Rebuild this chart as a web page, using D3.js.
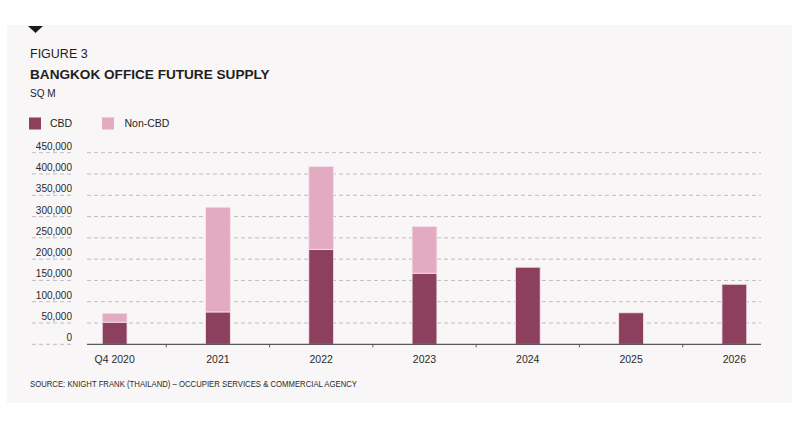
<!DOCTYPE html>
<html>
<head>
<meta charset="utf-8">
<script src="https://cdn.jsdelivr.net/npm/d3@7"></script>
<style>
  html, body { margin: 0; padding: 0; background: #ffffff; }
  svg { display: block; font-family: "Liberation Sans", Arial, sans-serif; }
</style>
</head>
<body>
<div id="chart"></div>
<script>
const width = 800;
const height = 424;

const categories = ["Q4 2020", "2021", "2022", "2023", "2024", "2025", "2026"];
const cbd = [52000, 76000, 223000, 167000, 181000, 74000, 141000];
const nonCbd = [21000, 246000, 195000, 110000, 0, 0, 0];
const yTicks = [0, 50000, 100000, 150000, 200000, 250000, 300000, 350000, 400000, 450000];
const seriesNames = ["CBD", "Non-CBD"];
const colors = ["#8c405e", "#e3abc2"];

const svg = d3.select('#chart')
    .append('svg')
    .attr('width', width)
    .attr('height', height);

// panel
svg.append('rect')
    .attr('x', 7).attr('y', 25)
    .attr('width', 785).attr('height', 378)
    .attr('fill', '#f9f6f7');

svg.append('path')
    .attr('d', 'M28,26 L43,26 L35.5,33 Z')
    .attr('fill', '#1a1a1a');

svg.append('text').attr('x', 30).attr('y', 58)
    .attr('font-size', '12.5px').attr('fill', '#1e1e1e')
    .text('FIGURE 3');
svg.append('text').attr('x', 30).attr('y', 79.3)
    .attr('font-size', '13.6px').attr('font-weight', 'bold').attr('fill', '#1e1e1e')
    .text('BANGKOK OFFICE FUTURE SUPPLY');
svg.append('text').attr('x', 30).attr('y', 96.7)
    .attr('font-size', '10px').attr('fill', '#1e1e1e')
    .text('SQ M');

// legend
const legend = svg.append('g');
[[29, 50], [102, 124.5]].forEach((p, i) => {
    legend.append('rect').attr('x', p[0]).attr('y', 117.5)
        .attr('width', 12).attr('height', 12).attr('fill', colors[i]);
    legend.append('text').attr('x', p[1]).attr('y', 127.3)
        .attr('font-size', '10.5px').attr('fill', '#1e1e1e')
        .text(seriesNames[i]);
});

const x = d3.scaleBand()
    .domain(categories)
    .range([63, 786]);

const y = d3.scaleLinear()
    .domain([0, 450000])
    .range([344.3, 152.7]);

// gridlines + labels
const grid = svg.append('g');
yTicks.forEach(t => {
    if (t > 0) {
        grid.append('line')
            .attr('x1', 87).attr('x2', 761)
            .attr('y1', y(t)).attr('y2', y(t))
            .attr('stroke', '#bdbdbd').attr('stroke-width', 1)
            .attr('stroke-dasharray', '4,3');
    }
    grid.append('line')
        .attr('x1', 32).attr('x2', 72)
        .attr('y1', y(t)).attr('y2', y(t))
        .attr('stroke', '#bdbdbd').attr('stroke-width', 1)
        .attr('stroke-dasharray', '4,3');
    grid.append('text')
        .attr('x', 72).attr('y', y(t) - 3)
        .attr('text-anchor', 'end')
        .attr('font-size', '10px').attr('fill', '#2a2a2a')
        .text(d3.format(',')(t));
});

// stacked bars
const data = categories.map((c, i) => ({ name: c, CBD: cbd[i], "Non-CBD": nonCbd[i] }));
const stacked = d3.stack().keys(seriesNames)(data);
const barW = x.bandwidth() * 0.24;

svg.append('g')
    .selectAll('g')
    .data(stacked)
    .join('g')
    .attr('fill', (d, i) => colors[i])
    .selectAll('rect')
    .data(d => d.filter(v => v[1] - v[0] > 0))
    .join('rect')
    .attr('x', d => x(d.data.name) + x.bandwidth() / 2 - barW / 2)
    .attr('y', d => y(d[1]))
    .attr('width', barW)
    .attr('height', d => y(d[0]) - y(d[1]))
    .attr('stroke', '#f4e6ec')
    .attr('stroke-width', 0.8);

// x axis
const xAxis = svg.append('g');
xAxis.append('line')
    .attr('x1', 87).attr('x2', 761)
    .attr('y1', y(0)).attr('y2', y(0))
    .attr('stroke', '#5a5a5a').attr('stroke-width', 1.2);
categories.slice(1).forEach(c => {
    xAxis.append('line')
        .attr('x1', x(c)).attr('x2', x(c))
        .attr('y1', y(0)).attr('y2', y(0) + 3)
        .attr('stroke', '#5a5a5a');
});
categories.forEach(c => {
    xAxis.append('text')
        .attr('x', x(c) + x.bandwidth() / 2)
        .attr('y', 363.3)
        .attr('text-anchor', 'middle')
        .attr('font-size', '10.5px').attr('fill', '#2a2a2a')
        .text(c);
});

svg.append('text').attr('x', 30).attr('y', 386.5)
    .attr('font-size', '9.5px').attr('fill', '#2a2a2a')
    .attr('textLength', 327).attr('lengthAdjust', 'spacingAndGlyphs')
    .text('SOURCE: KNIGHT FRANK (THAILAND) – OCCUPIER SERVICES & COMMERCIAL AGENCY');
</script>
</body>
</html>
